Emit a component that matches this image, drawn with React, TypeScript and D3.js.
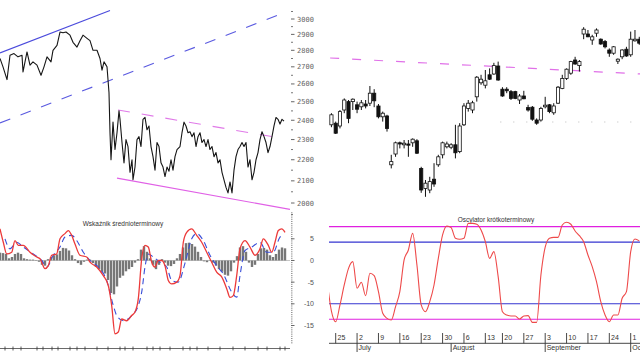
import React from 'react';
import * as d3 from 'd3';

// ---------- LEFT: long-term price (log scale) ----------
const priceDay = [0,3,7,10,14,18,22,23,27,30,33,37,41,44,47,51,53,57,60,63,66,70,73,77,80,83,87,90,93,97,100,102,104,106,107,109,110,111,113,115,117,119,120,122,124,126,128,130,132,133,135,137,139,141,143,145,147,149,151,153,155,157,159,161,163,165,167,169,171,173,175,177,180,182,184,186,188,190,192,194,196,198,200,202,204,206,208,210,212,214,216,218,220,222,224,226,228,230,232,234,236,238,240,242,244,246,248,250,252,254,256,258,260,262,264,266,268,270,272,274,276,278,280,282,284];
const priceClose = [2750,2700,2625,2770,2780,2760,2770,2670,2790,2710,2730,2710,2650,2700,2760,2730,2800,2830,2915,2910,2915,2895,2850,2820,2860,2895,2875,2860,2800,2800,2750,2680,2730,2710,2700,2550,2335,2200,2390,2250,2335,2450,2405,2285,2185,2300,2265,2140,2200,2105,2165,2300,2315,2265,2405,2415,2350,2370,2265,2215,2150,2285,2265,2185,2165,2120,2165,2145,2200,2150,2215,2250,2265,2335,2390,2370,2335,2340,2315,2335,2265,2315,2335,2285,2300,2265,2300,2250,2265,2215,2235,2185,2200,2140,2105,2070,2045,2095,2045,2150,2215,2250,2265,2285,2265,2285,2165,2200,2105,2140,2200,2235,2300,2340,2315,2285,2235,2265,2315,2370,2415,2405,2380,2405,2395];
const priceMajorTicks = [2000,2100,2200,2300,2400,2500,2600,2700,2800,2900,3000];
const priceMinorTicks = [1950,2050,2150,2250,2350,2450,2550,2650,2750,2850,2950,3050];
const upChannelTop: [number, number][] = [[0, 2784], [110, 3056]];
const upChannelBottom: [number, number][] = [[0, 2386], [287, 3049]];
const downChannelTop: [number, number][] = [[118, 2455], [280, 2308]];
const downChannelBottom: [number, number][] = [[117, 2113], [290, 1972]];
const leftAxisTickDays = [5,13,21,37,43,52,58,70,77,85,97,108,120,125,133,147,153,160,170,183,190,197,208,220,233,245,258,267,280,285];

// ---------- LEFT: medium-term indicator ----------
const macdDay = [0,3.3,6.7,11.7,15,18.3,23.3,30,36.7,40,45,48.3,51.7,56.7,60,65,68.3,71.7,75,80,86.7,90,96.7,103.3,108.3,111.7,115,118.3,121.7,126.7,131.7,135,138.3,141.7,145,148.3,151.7,155,158.3,161.7,165,168.3,171.7,176.7,180,183.3,186.7,191.7,196.7,201.7,206.7,211.7,216.7,221.7,226.7,230,233.3,236.7,240,245,250,255,260,263.3,268.3,271.7,275,278.3,281.7,285];
const macdValue = [7.3,4.2,1.5,1.9,4.6,3.5,3.5,1.9,0.8,0.4,-1.9,-1.2,1.2,1.5,5,6.2,6.9,5.8,3.8,1.2,0.8,-0.4,-1.5,-3.5,-5.8,-10.4,-16.9,-16.5,-13.5,-13.9,-12.7,-11.9,-8.8,0.4,3.5,3.1,-0.4,-1.5,0,0,-1.2,-4.6,-5.4,-5,-3.5,4.2,6.5,7.3,5.8,4.2,1.9,-0.4,-2.7,-3.8,-6.5,-8.5,-8.1,-3.5,2.7,4.6,3.1,1.2,2.7,5.0,3.5,1.9,4.2,6.9,7.3,6.5];
const signalDay = [5,10,16.7,23.3,33.3,41.7,46.7,53.3,60,65,71.7,76.7,83.3,90,100,106.7,113.3,116.7,123.3,131.7,138.3,141.7,145,148.3,153.3,160,166.7,171.7,178.3,185,191.7,196.7,203.3,210,216.7,223.3,231.7,236.7,240,245,251.7,260,266.7,273.3,280,283.3];
const signalValue = [5,2.7,4.2,3.1,1.5,0,-1.5,1.2,3.1,5.4,5.8,4.6,1.9,0,-1.9,-4.6,-10.4,-12.7,-13.9,-12.7,-10.4,-7.3,-1.5,1.5,0.8,-0.4,-1.5,-4.6,-5,-0.6,5,6.2,4.6,1.2,-1.2,-3.1,-7.3,-8.5,-3.5,2.3,3.1,4.2,1.9,1.9,5.4,5.8];
const histValue = [1.8,1.7,1.5,0.5,0.8,1.5,1.8,1.5,0.5,0.3,0.2,0.2,0.1,-0.3,-1.0,-1.2,0.3,0.8,1.2,1.4,2.2,2.9,2.8,2.3,1.2,0.3,-0.6,-1.0,-0.3,0.2,0.2,-0.6,-1.5,-2.0,-2.6,-3.0,-4.5,-7.5,-7.8,-6.0,-4.0,-3.5,-2.5,-2.0,-1.5,-0.5,0.3,2.5,3.3,2.0,0.5,-1.0,-2.0,-1.0,0.3,-0.5,-1.2,-1.3,-0.8,0.5,1.5,3.0,4.0,4.1,3.8,3.2,2.0,0.8,-0.2,-0.4,0.1,-0.5,-1.2,-2.0,-2.6,-3.3,-3.5,-2.5,-0.5,1.0,3.0,3.3,2.0,-0.5,-1.5,-1.0,1.5,2.8,2.9,2.5,1.2,0.8,1.5,2.5,3.0,2.8];
const histStepDays = 3;
const indicatorLabels = [5, 0, -5, -10, -15];

// ---------- RIGHT: daily candles ----------
const candleDay = d3.range(-1, 72);
const candleOpen  = [2138,2142,2135,2175,2196,2196,2188,2183,2190,2192,2217,2185,2158,2160,2038,2065,2093,2088,2090,2093,2098,2029,1979,1975,2002,2038,2063,2083,2082,2088,2071,2138,2179,2175,2208,2243,2237,2263,2265,2285,2227,2227,2221,2221,2200,2210,2181,2182,2150,2150,2183,2188,2168,2192,2229,2254,2267,2300,2286,2365,2365,2350,2367,2352,2346,2325,2317,2297,2308,2327,2313,2348,2352];
const candleHigh  = [2167,2146,2175,2204,2200,2204,2196,2200,2200,2235,2227,2190,2171,2163,2063,2096,2096,2100,2100,2104,2102,2033,2000,2008,2042,2063,2096,2096,2092,2138,2142,2192,2200,2198,2260,2263,2275,2279,2293,2296,2232,2232,2225,2223,2215,2223,2188,2185,2154,2183,2208,2190,2192,2235,2263,2279,2298,2308,2300,2382,2375,2363,2379,2354,2350,2329,2335,2304,2327,2333,2371,2375,2358];
const candleLow   = [2132,2115,2129,2167,2142,2175,2167,2175,2179,2185,2182,2154,2146,2121,2029,2058,2079,2079,2058,2083,2065,1968,1958,1967,1983,2033,2054,2079,2077,2054,2067,2135,2171,2167,2196,2238,2229,2250,2263,2248,2208,2217,2200,2202,2190,2202,2171,2148,2138,2146,2179,2167,2163,2190,2227,2250,2263,2288,2271,2352,2357,2338,2358,2338,2329,2308,2313,2290,2302,2308,2308,2346,2338];
const candleClose = [2163,2117,2171,2200,2154,2202,2177,2193,2185,2217,2198,2158,2167,2129,2046,2093,2090,2092,2087,2102,2067,1975,1992,1996,1990,2058,2093,2090,2088,2068,2135,2185,2192,2193,2257,2252,2248,2252,2286,2250,2210,2223,2204,2204,2210,2203,2175,2152,2142,2179,2187,2171,2185,2232,2254,2277,2296,2290,2296,2377,2358,2358,2375,2340,2333,2317,2333,2302,2325,2310,2352,2352,2342];
const resistanceLine: [number, number][] = [[-1.3, 2305], [71.3, 2265]];
const supportLevel = 2145;
const supportFromDay = 38.5;

// ---------- RIGHT: short-term oscillator ----------
const oscDay = d3.range(-2, 72);
const oscValue = [42,13,2.6,18.9,38.3,54.5,61,35.1,40.9,27.9,49.7,47.3,31.8,10.8,5.9,4.3,17.2,31.8,62.6,72.3,88.5,57.7,18.9,12.3,22.1,38.3,64.2,86.9,95.6,94,83.7,82.7,83.7,98.2,98.2,97.3,91.7,80.4,64.2,70.7,46.4,12.3,9.1,8.2,8.2,5.2,8.2,8.5,2,2,48,75,83.7,84.6,84.6,96.6,99.2,97.3,90.8,86.2,80.4,67.4,56.1,41.5,22.1,9.1,2.6,9.1,9.1,25.4,31.8,70.7,83,81.2];
const oscOuterLevels = [95, 5];
const oscInnerLevels = [80, 20];
const weekTickDay = [0,5,10,15,20,25,30,35,39,44,49,54,59,64,69];
const weekTickLabel = ['25','2','9','16','23','30','6','13','20','27','3','10','17','24','1'];
const monthTickDay = [5,27,49,69];
const monthTickLabel = ['July','August','September','October'];

const MONO = '"DejaVu Sans Mono", monospace';
const SANS = '"Liberation Sans", Arial, sans-serif';

export default function App() {
  // scales
  const xL = d3.scaleLinear().domain([0, 290]).range([0, 290]);
  const yP = d3.scaleLog().domain([2000, 3000]).range([203, 19]);
  const yM = d3.scaleLinear().domain([-15, 5]).range([325.5, 238.8]);
  const xR = d3.scaleLinear().domain([0, 69]).range([335.7, 630.7]);
  const yC = d3.scaleLinear().domain([1950, 2450]).range([200, 0]);
  const yO = d3.scaleLinear().domain([0, 100]).range([324.4, 221.5]);

  const pricePts: [number, number][] = priceDay.map((d, i) => [d, priceClose[i]]);
  const linePrice = d3.line<[number, number]>().x(d => xL(d[0])).y(d => yP(d[1]));
  const lineMacd = d3.line<[number, number]>().x(d => xL(d[0])).y(d => yM(d[1])).curve(d3.curveMonotoneX);
  const lineOsc = d3.line<[number, number]>().x(d => xR(d[0])).y(d => yO(d[1])).curve(d3.curveMonotoneX);
  const lineCandleTrend = d3.line<[number, number]>().x(d => xR(d[0])).y(d => yC(d[1]));

  const macdPts: [number, number][] = macdDay.map((d, i) => [d, macdValue[i]]);
  const sigPts: [number, number][] = signalDay.map((d, i) => [d, signalValue[i]]);
  const oscPts: [number, number][] = oscDay.map((d, i) => [d, oscValue[i]]);

  const axisX = 291;
  const minorM = d3.range(-19, 11.01, 0.5);
  const bodyW = 3.2;

  return (
    <svg width={640} height={360} style={{ position: 'absolute', left: 0, top: 0, background: '#fff' }}>
      <defs>
        <clipPath id="clipR"><rect x={329} y={0} width={311} height={360} /></clipPath>
        <clipPath id="clipL"><rect x={0} y={0} width={290} height={360} /></clipPath>
      </defs>
      <rect x={0} y={0} width={640} height={360} fill="#fff" />

      {/* ===== Left top: price ===== */}
      <g clipPath="url(#clipL)">
        <path d={linePrice(upChannelTop)!} stroke="#4b4bdc" strokeWidth={1.1} fill="none" />
        <path d={linePrice(upChannelBottom)!} stroke="#5a5ae0" strokeWidth={1.1} fill="none" strokeDasharray="11,11" />
        <path d={linePrice(downChannelTop)!} stroke="#e07ae8" strokeWidth={1.1} fill="none" strokeDasharray="12,12" />
        <path d={linePrice(downChannelBottom)!} stroke="#e060e6" strokeWidth={1.2} fill="none" />
        <path d={linePrice(pricePts)!} stroke="#161616" strokeWidth={1.1} fill="none" strokeLinejoin="round" />
      </g>
      {priceMinorTicks.map(v => (
        <line key={'pm' + v} x1={axisX} x2={axisX + 2} y1={yP(v)} y2={yP(v)} stroke="#777" strokeWidth={1} />
      ))}
      {priceMajorTicks.map(v => (
        <g key={'pM' + v}>
          <line x1={axisX} x2={axisX + 3.5} y1={yP(v)} y2={yP(v)} stroke="#666" strokeWidth={1} />
          <text x={297} y={yP(v) + 2.5} fontFamily={MONO} fontSize={7} fill="#666">{v}</text>
        </g>
      ))}

      {/* ===== Left bottom: indicator ===== */}
      <text x={123} y={226} fontFamily={SANS} fontSize={6.5} fill="#333" textAnchor="middle">Wskaźnik średnioterminowy</text>
      <g clipPath="url(#clipL)">
        {histValue.map((v, i) => (
          <rect key={'h' + i} x={xL(i * histStepDays) - 1.2} width={2.4}
            y={Math.min(yM(v), yM(0))} height={Math.abs(yM(v) - yM(0))} fill="#777" />
        ))}
        <line x1={0} x2={290} y1={yM(0)} y2={yM(0)} stroke="#888" strokeWidth={0.5} />
        <path d={lineMacd(sigPts)!} stroke="#3a4fd8" strokeWidth={1.1} fill="none" strokeDasharray="6,4" />
        <path d={lineMacd(macdPts)!} stroke="#ec3a3a" strokeWidth={1.3} fill="none" />
      </g>
      {minorM.map(v => (
        <line key={'mm' + v} x1={axisX} x2={axisX + 1.5} y1={yM(v)} y2={yM(v)} stroke="#777" strokeWidth={0.8} />
      ))}
      {indicatorLabels.map(v => (
        <g key={'ml' + v}>
          <line x1={axisX} x2={axisX + 3.5} y1={yM(v)} y2={yM(v)} stroke="#666" strokeWidth={1} />
          <text x={314} y={yM(v) + 2.5} fontFamily={SANS} fontSize={7} fill="#555" textAnchor="end">{v}</text>
        </g>
      ))}
      <line x1={0} x2={290} y1={348.5} y2={348.5} stroke="#444" strokeWidth={0.8} />
      {leftAxisTickDays.map(d => (
        <line key={'lt' + d} x1={xL(d)} x2={xL(d)} y1={346.5} y2={350.5} stroke="#333" strokeWidth={0.8} />
      ))}

      {/* ===== Right top: candles ===== */}
      <g clipPath="url(#clipR)">
        <line x1={xR(supportFromDay)} x2={640} y1={yC(supportLevel)} y2={yC(supportLevel)}
          stroke="#bbb" strokeWidth={1} strokeDasharray="1,12" />
        <path d={lineCandleTrend(resistanceLine)!} stroke="#e070e8" strokeWidth={1.2} fill="none" strokeDasharray="9,13" />
        {candleDay.map((d, i) => {
          const o = candleOpen[i], c = candleClose[i], h = candleHigh[i], l = candleLow[i];
          const up = c >= o;
          const top = yC(Math.max(o, c));
          const bh = Math.max(1, Math.abs(yC(o) - yC(c)));
          const cx = xR(d);
          return (
            <g key={'c' + d}>
              <line x1={cx} x2={cx} y1={yC(h)} y2={yC(l)} stroke="#111" strokeWidth={1} />
              <rect x={cx - bodyW / 2} y={top} width={bodyW} height={bh}
                fill={up ? '#fff' : '#111'} stroke="#111" strokeWidth={0.8} />
            </g>
          );
        })}
      </g>

      {/* ===== Right bottom: oscillator ===== */}
      <text x={496} y={222} fontFamily={SANS} fontSize={6.5} fill="#333" textAnchor="middle">Oscylator krótkoterminowy</text>
      <g clipPath="url(#clipR)">
        {oscOuterLevels.map(v => (
          <line key={'oo' + v} x1={329} x2={640} y1={yO(v)} y2={yO(v)} stroke="#e020e0" strokeWidth={1.1} />
        ))}
        {oscInnerLevels.map(v => (
          <line key={'oi' + v} x1={329} x2={640} y1={yO(v)} y2={yO(v)} stroke="#3434d0" strokeWidth={1.1} />
        ))}
        <path d={lineOsc(oscPts)!} stroke="#ee4a4a" strokeWidth={1.1} fill="none" />
        <line x1={329} x2={640} y1={343.3} y2={343.3} stroke="#333" strokeWidth={0.9} />
        {weekTickDay.map((d, i) => (
          <g key={'w' + d}>
            <line x1={xR(d)} x2={xR(d)} y1={333} y2={343.3} stroke="#333" strokeWidth={0.9} />
            <text x={xR(d) + 1.8} y={339.5} fontFamily={SANS} fontSize={7} fill="#333">{weekTickLabel[i]}</text>
          </g>
        ))}
        {monthTickDay.map((d, i) => (
          <g key={'m' + d}>
            <line x1={xR(d)} x2={xR(d)} y1={343.3} y2={352} stroke="#333" strokeWidth={0.9} />
            <text x={xR(d) + 1.5} y={350} fontFamily={SANS} fontSize={7} fill="#333">{monthTickLabel[i]}</text>
          </g>
        ))}
      </g>
    </svg>
  );
}
